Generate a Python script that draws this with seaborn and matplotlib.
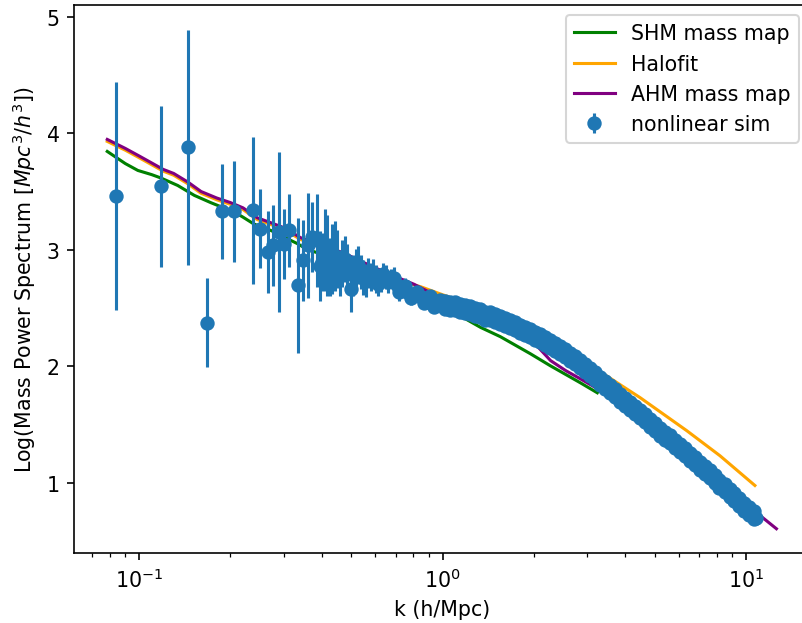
import numpy as np
import pandas as pd
import seaborn as sns
import matplotlib
matplotlib.use('Agg')
import matplotlib.pyplot as plt

### 데이터
# SHM mass map
shm_k = [0.0785, 0.09, 0.099, 0.11, 0.118, 0.134, 0.152, 0.1725, 0.19, 0.206, 0.22,
         0.238, 0.255, 0.272, 0.30, 0.333, 0.36, 0.387, 0.42, 0.47, 0.53, 0.60, 0.70,
         0.80, 0.90, 1.0, 1.15, 1.334, 1.551, 1.947, 2.265, 2.844, 3.236]
shm_logp = [3.844, 3.74, 3.681, 3.645, 3.616, 3.552, 3.467, 3.404, 3.36, 3.324, 3.28,
            3.224, 3.19, 3.166, 3.11, 3.052, 3.00, 2.975, 2.935, 2.88, 2.82, 2.755, 2.68,
            2.615, 2.56, 2.505, 2.43, 2.335, 2.255, 2.109, 2.006, 1.860, 1.774]

# Halofit
halofit_k = [0.0785, 0.09, 0.10, 0.11, 0.12, 0.13, 0.145, 0.16, 0.18, 0.20, 0.22, 0.245,
             0.27, 0.30, 0.34, 0.38, 0.42, 0.47, 0.53, 0.60, 0.70, 0.765, 0.846, 1.0,
             1.146, 1.334, 1.551, 1.947, 2.44, 3.31, 3.85, 4.48, 6.38, 8.21, 10.7]
halofit_logp = [3.93, 3.855, 3.79, 3.73, 3.675, 3.64, 3.565, 3.485, 3.43, 3.39, 3.345, 3.26,
                3.22, 3.175, 3.09, 3.04, 3.005, 2.96, 2.90, 2.835, 2.765, 2.715, 2.684, 2.615,
                2.563, 2.499, 2.435, 2.315, 2.166, 1.955, 1.843, 1.732, 1.449, 1.234, 0.979]

# AHM mass map
ahm_k = [0.0785, 0.09, 0.10, 0.11, 0.12, 0.13, 0.145, 0.16, 0.18, 0.20, 0.22, 0.245,
         0.27, 0.30, 0.34, 0.38, 0.42, 0.47, 0.53, 0.60, 0.70, 0.805, 0.9, 1.0, 1.15,
         1.33, 1.55, 1.8, 2.05, 2.27, 2.55, 2.84, 3.24, 3.8, 4.48, 5.4, 6.54, 7.3,
         8.21, 9.3, 10.7, 12.6]
ahm_logp = [3.947, 3.87, 3.805, 3.745, 3.69, 3.655, 3.58, 3.50, 3.445, 3.405, 3.36, 3.275,
            3.235, 3.19, 3.105, 3.055, 3.02, 2.975, 2.91, 2.845, 2.77, 2.705, 2.64, 2.58, 2.50,
            2.42, 2.345, 2.265, 2.175, 2.05, 1.963, 1.895, 1.809, 1.681, 1.534, 1.374, 1.208, 1.110,
            1.003, 0.888, 0.757, 0.608]

# nonlinear sim : 저k 구간 (큰 오차막대)
sim_k_low = [0.0836, 0.118, 0.1446, 0.167, 0.187, 0.2048,
             0.237, 0.2506, 0.265, 0.2753, 0.2893, 0.3006, 0.312, 0.335, 0.3455, 0.3589,
             0.3726, 0.387, 0.402, 0.4175, 0.4336, 0.4503, 0.4677, 0.4858, 0.498, 0.5174,
             0.5374, 0.558, 0.5796, 0.602, 0.625, 0.6494, 0.6745, 0.7096, 0.737, 0.7655,
             0.8045, 0.846, 0.8906, 0.925, 0.9607,
             0.395, 0.41, 0.425, 0.442, 0.46, 0.476, 0.508, 0.527, 0.547, 0.568,
             0.59, 0.613, 0.637, 0.66, 0.69, 0.72, 0.75, 0.785, 0.825, 0.868, 0.91, 0.94, 0.98]
sim_logp_low = [3.461, 3.547, 3.878, 2.375, 3.329, 3.329,
                3.340, 3.180, 2.981, 3.038, 3.153, 3.052, 3.166, 2.695, 2.909, 3.038,
                3.110, 3.081, 2.895, 2.952, 2.924, 2.924, 2.881, 2.852, 2.667, 2.838,
                2.810, 2.738, 2.767, 2.752, 2.738, 2.767, 2.752, 2.695, 2.666, 2.638,
                2.609, 2.595, 2.552, 2.581, 2.523,
                2.86, 3.00, 2.85, 2.95, 2.80, 2.92, 2.78, 2.87, 2.76, 2.80,
                2.80, 2.71, 2.79, 2.72, 2.76, 2.64, 2.69, 2.59, 2.64, 2.54, 2.60, 2.51, 2.57]
sim_err_low = [0.98, 0.69, 1.01, 0.38, 0.41, 0.43,
               0.63, 0.34, 0.35, 0.35, 0.69, 0.30, 0.31, 0.58, 0.35, 0.45,
               0.30, 0.40, 0.25, 0.35, 0.30, 0.25, 0.20, 0.20, 0.20, 0.17,
               0.15, 0.14, 0.12, 0.12, 0.10, 0.10, 0.08, 0.08, 0.07, 0.06,
               0.05, 0.05, 0.04, 0.04, 0.04,
               0.30, 0.35, 0.25, 0.30, 0.20, 0.20, 0.18, 0.16, 0.15, 0.13,
               0.12, 0.11, 0.10, 0.09, 0.09, 0.08, 0.07, 0.06, 0.05, 0.05, 0.04, 0.04, 0.04]

# nonlinear sim : 고k 구간 중심선
sim_k_high = [1.000, 1.039, 1.079, 1.120, 1.164, 1.208, 1.255, 1.304,
              1.354, 1.406, 1.460, 1.517, 1.575, 1.636, 1.699, 1.765,
              1.833, 1.903, 1.977, 2.053, 2.133, 2.215, 2.300, 2.389,
              2.481, 2.577, 2.677, 2.780, 2.887, 2.999, 3.115, 3.236,
              3.361, 3.491, 3.625, 3.765, 3.911, 4.062, 4.217, 4.379,
              4.550, 4.725, 4.908, 5.096, 5.293, 5.497, 5.709, 5.929,
              6.159, 6.395, 6.642, 6.898, 7.165, 7.441, 7.729, 8.026,
              8.337, 8.660, 8.995, 9.342, 9.701, 10.08, 10.46, 10.79]
sim_logp_high = [2.555, 2.503, 2.529, 2.512, 2.486, 2.503, 2.461, 2.469,
                 2.443, 2.426, 2.435, 2.400, 2.392, 2.375, 2.358, 2.340,
                 2.306, 2.306, 2.263, 2.255, 2.229, 2.203, 2.186, 2.152,
                 2.126, 2.100, 2.066, 2.040, 1.997, 1.971, 1.928, 1.903,
                 1.852, 1.826, 1.783, 1.757, 1.706, 1.680, 1.637, 1.611,
                 1.569, 1.543, 1.491, 1.465, 1.414, 1.397, 1.354, 1.320,
                 1.286, 1.243, 1.208, 1.165, 1.131, 1.097, 1.054, 1.011,
                 0.977, 0.934, 0.900, 0.857, 0.823, 0.771, 0.746, 0.703]
sim_err_high = [0.04, 0.04, 0.035, 0.035, 0.03, 0.03, 0.03, 0.03,
                0.025, 0.025, 0.025, 0.025, 0.02, 0.02, 0.02, 0.02,
                0.02, 0.02, 0.015, 0.015, 0.015, 0.015, 0.015, 0.015,
                0.015, 0.015, 0.015, 0.015, 0.015, 0.015, 0.015, 0.015,
                0.01, 0.01, 0.01, 0.01, 0.01, 0.01, 0.01, 0.01,
                0.01, 0.01, 0.01, 0.01, 0.01, 0.01, 0.01, 0.01,
                0.01, 0.01, 0.01, 0.01, 0.01, 0.01, 0.01, 0.01,
                0.01, 0.01, 0.01, 0.01, 0.01, 0.01, 0.01, 0.01]

# nonlinear sim : 고k 구간 사이 k (띠의 위/아래 가장자리)
sim_k_band = [1.019, 1.059, 1.10, 1.142, 1.186, 1.232, 1.28, 1.329,
              1.38, 1.433, 1.488, 1.546, 1.605, 1.667, 1.732, 1.799,
              1.868, 1.94, 2.015, 2.093, 2.174, 2.257, 2.344, 2.435,
              2.529, 2.627, 2.728, 2.833, 2.943, 3.057, 3.175, 3.298,
              3.426, 3.558, 3.695, 3.838, 3.986, 4.139, 4.298, 4.464,
              4.637, 4.816, 5.001, 5.194, 5.395, 5.602, 5.818, 6.043,
              6.276, 6.518, 6.769, 7.03, 7.302, 7.584, 7.876, 8.18,
              8.497, 8.826, 9.166, 9.52, 9.888, 10.27, 10.62]
sim_logp_upper = [2.564, 2.551, 2.555, 2.534, 2.53, 2.517, 2.50, 2.491,
                  2.47, 2.465, 2.453, 2.431, 2.419, 2.402, 2.384, 2.358,
                  2.341, 2.32, 2.294, 2.277, 2.251, 2.23, 2.204, 2.174,
                  2.148, 2.118, 2.088, 2.054, 2.019, 1.985, 1.951, 1.913,
                  1.874, 1.84, 1.805, 1.767, 1.728, 1.694, 1.659, 1.625,
                  1.591, 1.552, 1.513, 1.475, 1.441, 1.411, 1.372, 1.338,
                  1.30, 1.261, 1.222, 1.183, 1.149, 1.111, 1.068, 1.029,
                  0.991, 0.952, 0.914, 0.875, 0.832, 0.794, 0.76]
sim_logp_lower = [2.494, 2.481, 2.485, 2.464, 2.46, 2.447, 2.43, 2.421,
                  2.40, 2.395, 2.383, 2.361, 2.349, 2.332, 2.314, 2.288,
                  2.271, 2.25, 2.224, 2.207, 2.181, 2.16, 2.134, 2.104,
                  2.078, 2.048, 2.018, 1.984, 1.949, 1.915, 1.881, 1.843,
                  1.804, 1.77, 1.735, 1.697, 1.658, 1.624, 1.589, 1.555,
                  1.521, 1.482, 1.443, 1.405, 1.371, 1.341, 1.302, 1.268,
                  1.23, 1.191, 1.152, 1.113, 1.079, 1.041, 0.998, 0.959,
                  0.921, 0.882, 0.844, 0.805, 0.762, 0.724, 0.69]
sim_err_band = [0.04, 0.035, 0.035, 0.03, 0.03, 0.03, 0.03, 0.025,
                0.025, 0.025, 0.025, 0.02, 0.02, 0.02, 0.02, 0.02,
                0.02, 0.015, 0.015, 0.015, 0.015, 0.015, 0.015, 0.015,
                0.015, 0.015, 0.015, 0.015, 0.015, 0.015, 0.015, 0.01,
                0.01, 0.01, 0.01, 0.01, 0.01, 0.01, 0.01, 0.01,
                0.01, 0.01, 0.01, 0.01, 0.01, 0.01, 0.01, 0.01,
                0.01, 0.01, 0.01, 0.01, 0.01, 0.01, 0.01, 0.01,
                0.01, 0.01, 0.01, 0.01, 0.01, 0.01, 0.01]

sim = pd.DataFrame({'k': sim_k_low + sim_k_high + sim_k_band + sim_k_band,
                    'logp': sim_logp_low + sim_logp_high + sim_logp_upper + sim_logp_lower,
                    'err': sim_err_low + sim_err_high + sim_err_band + sim_err_band})

### 그래프
fig, ax = plt.subplots(figsize=(802 / 148, 624 / 148), dpi=148)
fig.subplots_adjust(left=0.0923, right=1.0094, bottom=0.1122, top=0.9904)

sns.lineplot(x=shm_k, y=shm_logp, color='green', label='SHM mass map',
             sort=False, estimator=None, ax=ax)
sns.lineplot(x=halofit_k, y=halofit_logp, color='orange', label='Halofit',
             sort=False, estimator=None, ax=ax)
sns.lineplot(x=ahm_k, y=ahm_logp, color='purple', label='AHM mass map',
             sort=False, estimator=None, ax=ax)
ax.errorbar(sim['k'], sim['logp'], yerr=sim['err'], fmt='o', label='nonlinear sim')

ax.set_xscale('log')
ax.set_xlim(0.061, 16.2)
ax.set_ylim(0.40, 5.10)
ax.set_xlabel('k (h/Mpc)')
ax.set_ylabel(r'Log(Mass Power Spectrum [$Mpc^3/h^3$])')
ax.legend(loc='upper right')

fig.savefig('out.png', dpi=148)
plt.close()
